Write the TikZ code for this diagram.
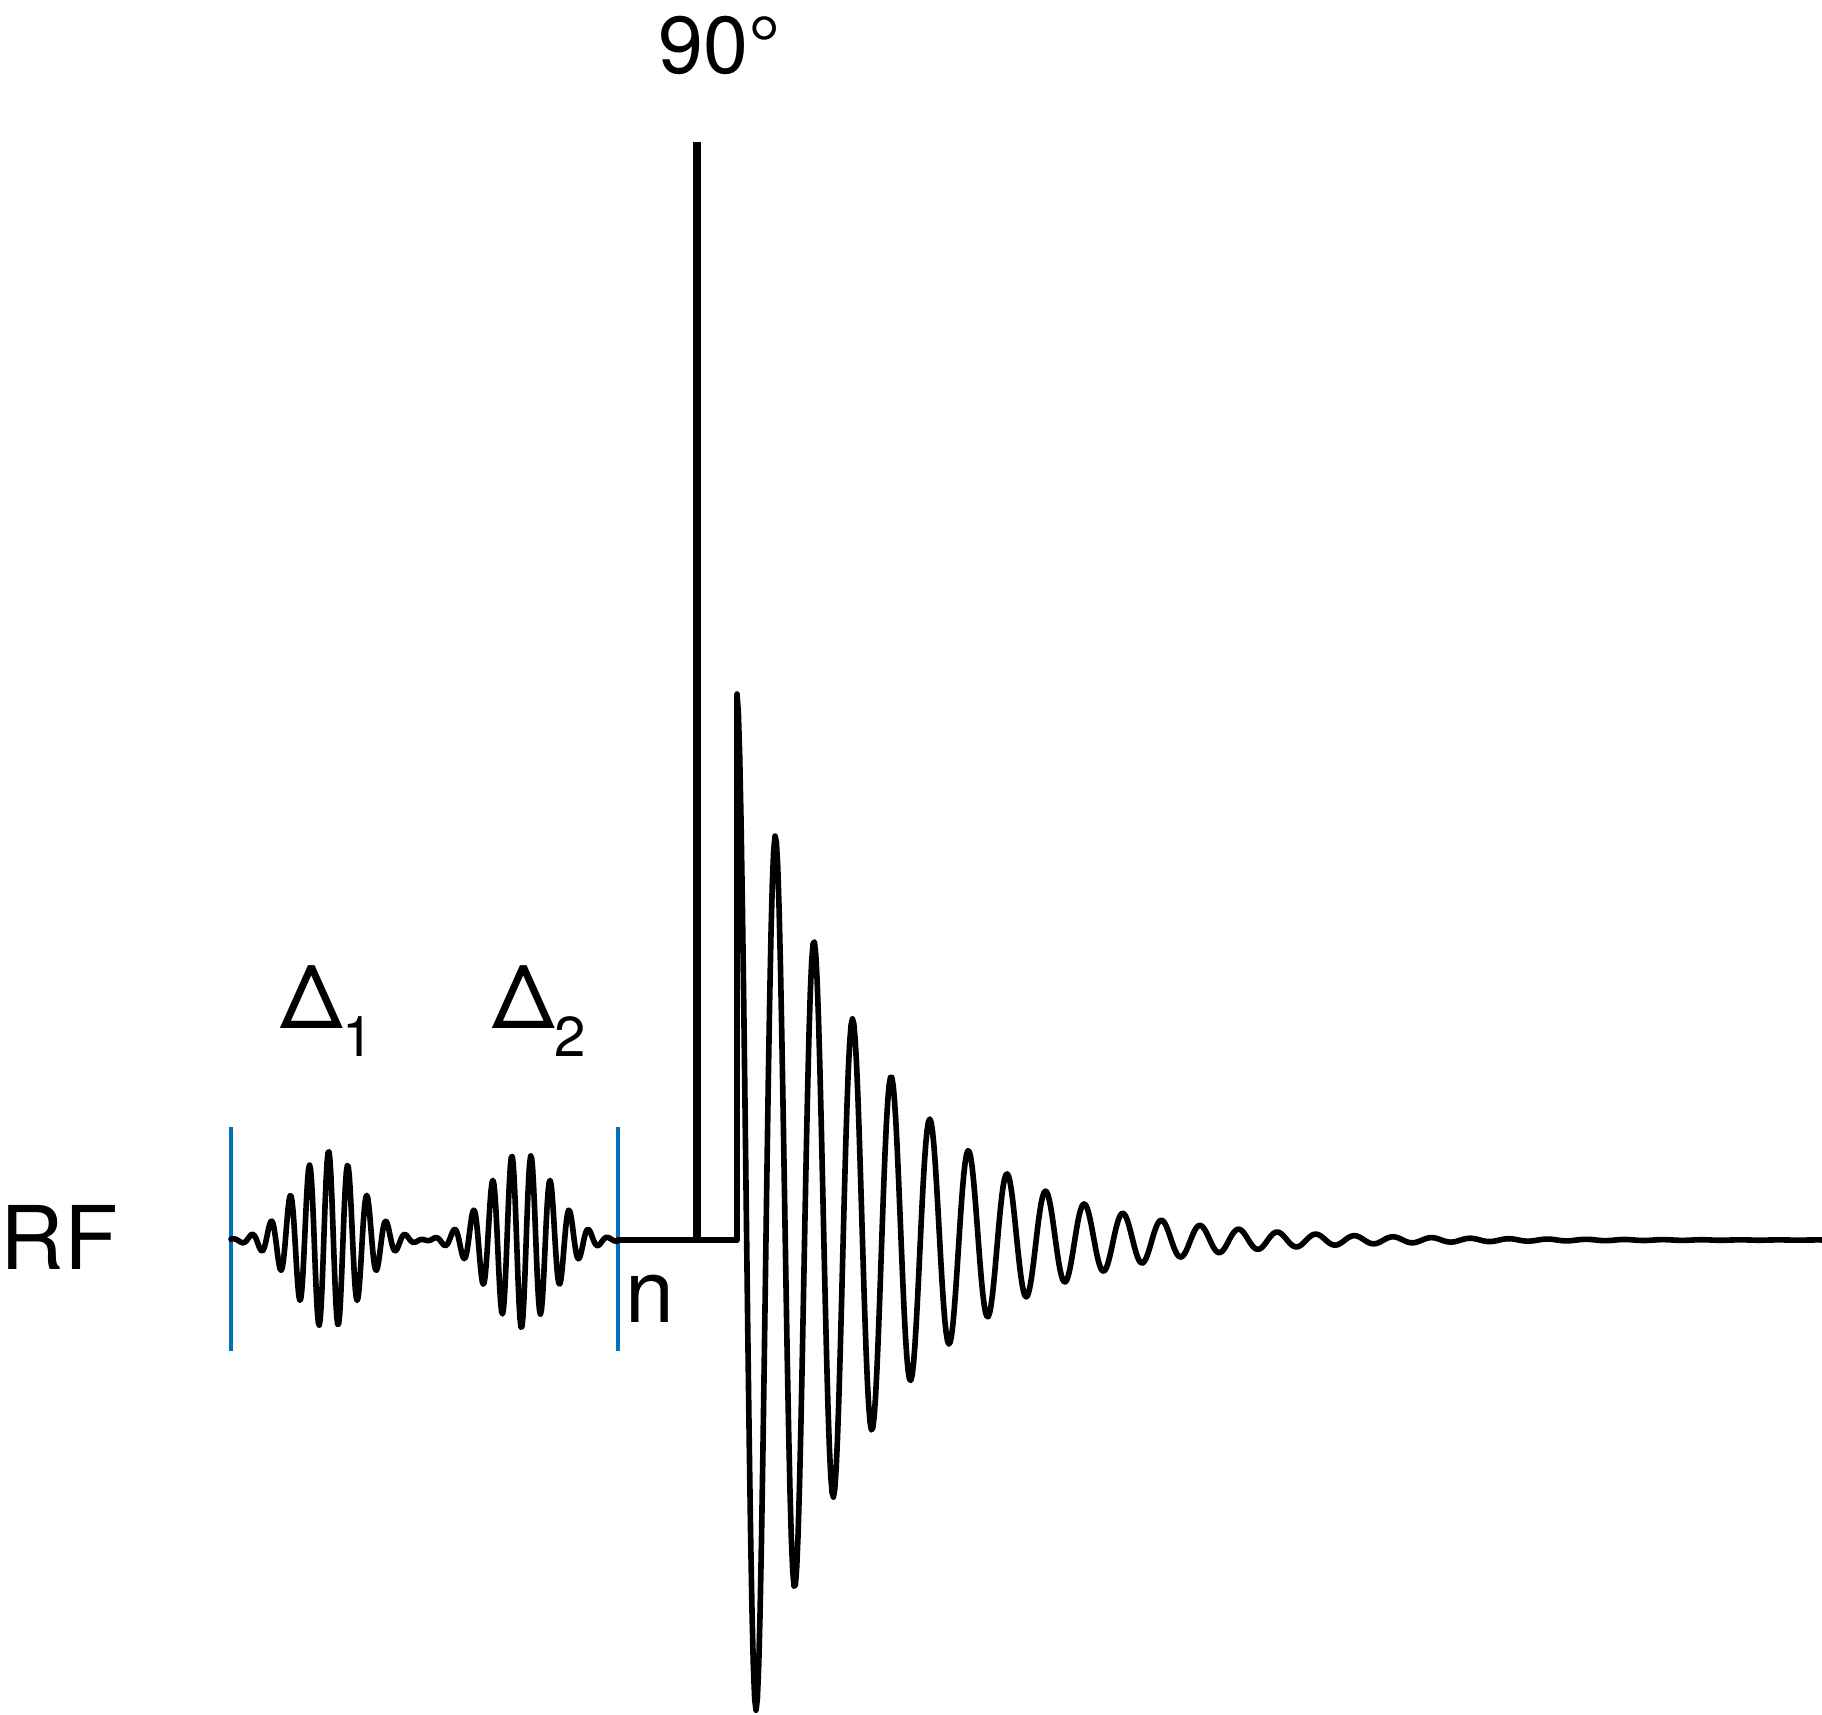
\documentclass[tikz,border=0pt]{standalone}
\usepackage{fontspec}
\setmainfont{TeX Gyre Heros}
\usepackage{tikz}
\definecolor{gateblue}{RGB}{0,114,189}
\newcommand{\lowidx}[1]{\raisebox{-0.32em}{\fontsize{16}{16}\selectfont #1}}

\begin{document}
\begin{tikzpicture}[x=0.01cm,y=-0.01cm,
    wave/.style={line width=1.6pt,line join=round,line cap=round},
    lbl/.style={inner sep=0pt,font=\fontsize{25}{30}\selectfont}]
  \useasboundingbox (0,0) rectangle (1822,1714);
  % labels
  \node[lbl,anchor=base west] (rf) at (0,1269) {RF};
  \node[lbl,anchor=base] (d1) at (327,1028) {Δ\lowidx{1}};
  \node[lbl,anchor=base] (d2) at (539,1028) {Δ\lowidx{2}};
  \node[lbl,anchor=base west] (reps) at (625,1322) {n};
  \node[lbl,anchor=base,font=\fontsize{23}{28}\selectfont] (flip) at (720,73) {90°};
  % blue gates
  \draw[gateblue,line width=1.1pt] (231,1127) -- (231,1351);
  \draw[gateblue,line width=1.1pt] (618,1127) -- (618,1351);
  % two noise packets
  \draw[wave] plot[domain=231:618,samples=400] (\x,{1240-89*exp(-min(0.5*((\x-328.6)/32.6)^2,9))*cos(18.75*(\x-328.6))+88*exp(-min(0.5*((\x-521.4)/32.6)^2,9))*cos(18.75*(\x-521.4))});
  % baseline and fid
  \draw[wave] (618,1240) -- (737,1240);
  \draw[wave] (737,1240) -- plot[domain=737:1822,samples=800] (\x,{1240-546*exp(-(\x-737)/128)*cos(9.3264*(\x-737))});
  % 90 degree pulse
  \draw[line width=2.3pt] (697,1240) -- (697,142);
\end{tikzpicture}
\end{document}
